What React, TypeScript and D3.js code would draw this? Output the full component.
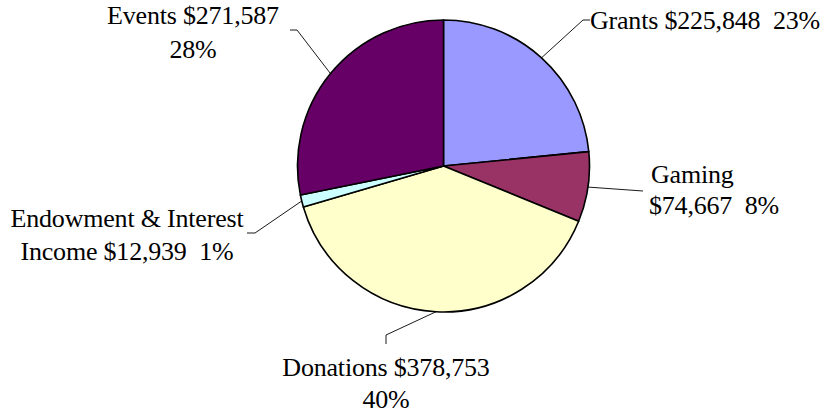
import React from "react";
import * as d3 from "d3";

const categories = ["Grants", "Gaming", "Donations", "Endowment & Interest Income", "Events"];
const values = [225848, 74667, 378753, 12939, 271587];
const percents = ["23%", "8%", "40%", "1%", "28%"];
const colors = ["#9999FF", "#993366", "#FFFFCC", "#CCFFFF", "#660066"];

// label layout: lines of text, anchor, text position, and leader polyline end points
const labelLines = [
  ["Grants $225,848  23%"],
  ["Gaming", "$74,667  8%"],
  ["Donations $378,753", "40%"],
  ["Endowment & Interest", "Income $12,939  1%"],
  ["Events $271,587", "28%"],
];
const labelLayout = [
  { y: 29, gap: 32, anchor: "start", xs: [590, 590], leader: [[583, 20], [590, 20]] },
  { y: 183, gap: 31, anchor: "start", xs: [651, 649], leader: [[643, 191]] },
  { y: 376, gap: 32, anchor: "middle", xs: [386, 386], leader: [[386, 335], [386, 344]] },
  { y: 227, gap: 33, anchor: "middle", xs: [127, 127], leader: [[255, 233], [247, 233]] },
  { y: 24, gap: 34, anchor: "middle", xs: [193, 193], leader: [[297, 30], [290, 30]] },
];

export default function App() {
  const width = 833;
  const height = 413;
  const cx = 443.5;
  const cy = 166;
  const r = 146;
  const pie = d3.pie<number>().sort(null).value((d) => d)(values);
  const arc = d3.arc<d3.PieArcDatum<number>>().innerRadius(0).outerRadius(r);

  return (
    <svg width={width} height={height} style={{ position: "absolute", left: 0, top: 0, background: "#fff" }}>
      <g transform={`translate(${cx},${cy})`}>
        {pie.map((p, i) => (
          <path key={i} d={arc(p) || ""} fill={colors[i]} stroke="#000" strokeWidth={1.6} strokeLinejoin="round" />
        ))}
      </g>
      {pie.map((p, i) => {
        const mid = (p.startAngle + p.endAngle) / 2;
        const sx = cx + r * Math.sin(mid);
        const sy = cy - r * Math.cos(mid);
        const pts = [[sx, sy], ...labelLayout[i].leader];
        const line = d3.line()(pts as [number, number][]) || "";
        return <path key={"l" + i} d={line} fill="none" stroke="#000" strokeWidth={0.9} />;
      })}
      {labelLines.map((lines, i) => (
        <text
          key={"t" + i}
          fontFamily="'Liberation Serif', serif"
          fontSize={26}
          letterSpacing={-0.2}
          fill="#000"
          textAnchor={labelLayout[i].anchor as any}
          style={{ whiteSpace: "pre" }}
        >
          {lines.map((ln, j) => (
            <tspan key={j} x={labelLayout[i].xs[j]} y={labelLayout[i].y + j * labelLayout[i].gap}>
              {ln}
            </tspan>
          ))}
        </text>
      ))}
    </svg>
  );
}
